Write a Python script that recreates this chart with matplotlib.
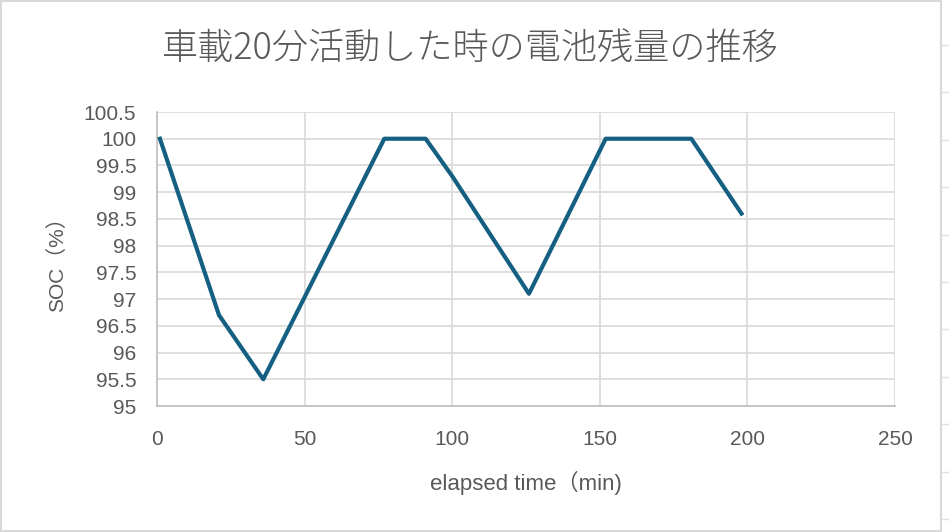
import matplotlib.pyplot as plt
from matplotlib.patches import Rectangle
from matplotlib.lines import Line2D
import numpy as np

# データ
elapsed = [1, 21, 36, 77, 91, 100, 126, 152, 181, 198]
soc = [100, 96.7, 95.5, 100, 100, 99.3, 97.1, 100, 100, 98.6]

x_ticks = [0, 50, 100, 150, 200, 250]
y_ticks = [95, 95.5, 96, 96.5, 97, 97.5, 98, 98.5, 99, 99.5, 100, 100.5]

title = '車載20分活動した時の電池残量の推移'
xlabel = 'elapsed time（min)'
ylabel = 'SOC（%）'

W, H = 949, 532
fig = plt.figure(figsize=(W / 100, H / 100), dpi=100)
ax = fig.add_axes([157 / W, 1 - 406 / H, (895 - 157) / W, (406 - 112) / H])

txt_col = '#595959'
fonts = ['Liberation Sans', 'Noto Sans CJK JP', 'DejaVu Sans']

ax.plot(elapsed, soc, color='#156082', lw=3, solid_joinstyle='round', zorder=3)

ax.set_xlim(0, 250)
ax.set_ylim(95, 100.5)
ax.set_xticks(x_ticks)
ax.set_yticks(y_ticks)
ax.set_xticklabels([str(v) for v in x_ticks], family=fonts)
ax.set_yticklabels(['%g' % v for v in y_ticks], family=fonts)
ax.tick_params(length=0, labelsize=15, colors=txt_col)
ax.tick_params(axis='y', pad=15)
ax.tick_params(axis='x', pad=17)
ax.grid(True, color='#D9D9D9', lw=1.2)
ax.set_axisbelow(True)
for s in ['top', 'right']:
    ax.spines[s].set_visible(False)
for s in ['left', 'bottom']:
    ax.spines[s].set_color('#BFBFBF')
    ax.spines[s].set_linewidth(1.2)

ax.set_xlabel(xlabel, fontsize=16, color=txt_col, family=fonts, labelpad=16)
ax.set_ylabel(ylabel, fontsize=15, color=txt_col, family=fonts, labelpad=12)

fig.text(470 / W, 1 - 49 / H, title, ha='center', va='center', fontsize=26,
         color=txt_col, family=['Noto Sans CJK JP', 'DejaVu Sans'], weight='light')

# グラフエリアの枠とシートの罫線
fig.patches.append(Rectangle((1 / W, 1 / H), 940 / W, 530 / H, transform=fig.transFigure,
                             fill=False, ec='#D9D9D9', lw=1.5))
for yy in np.arange(45, 532, 47.4):
    fig.add_artist(Line2D([942 / W, 1], [1 - yy / H] * 2, color='#E0E0E0', lw=1))

plt.savefig('out.png', dpi=100)
